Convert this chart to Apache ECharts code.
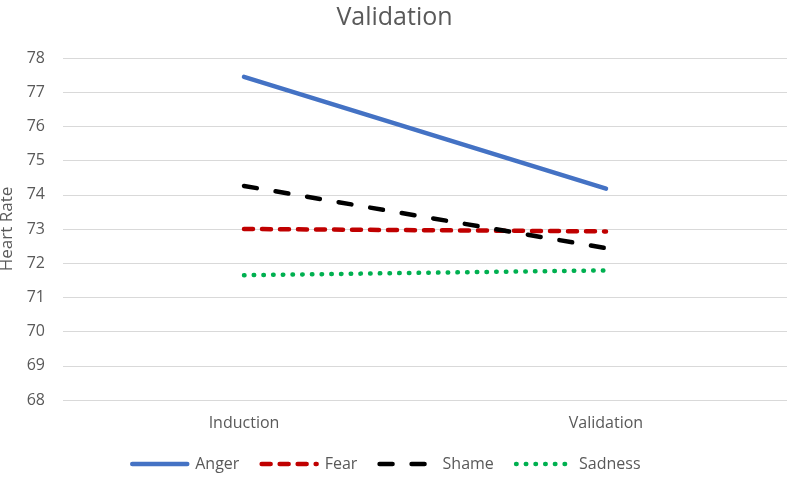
<!DOCTYPE html>
<html>
<head>
<meta charset="utf-8">
<script src="https://cdn.jsdelivr.net/npm/echarts@6/dist/echarts.min.js"></script>
<style>
html,body{margin:0;padding:0;background:#fff;}
#chart{width:789px;height:477px;}
</style>
</head>
<body>
<div id="chart"></div>
<script>
const categories = ['Induction', 'Validation'];
const anger = [77.45, 74.18];
const fear = [73.0, 72.93];
const shame = [74.26, 72.44];
const sadness = [71.65, 71.79];
const yMin = 68, yMax = 78, yStep = 1;

const font = "'Open Sans', 'Noto Sans', sans-serif";
const grey = '#595959';

const chart = echarts.init(document.getElementById('chart'));
chart.setOption({
  animation: false,
  title: {
    text: 'Validation',
    left: 'center',
    top: 0,
    textStyle: { fontFamily: font, fontSize: 25, fontWeight: 'normal', color: grey }
  },
  legend: {
    bottom: 0,
    left: 125,
    itemWidth: 55,
    itemHeight: 14,
    itemGap: 20,
    itemStyle: { opacity: 0 },
    lineStyle: { width: 4.5 },
    textStyle: { fontFamily: font, fontSize: 16, color: grey, padding: [0, 0, 0, 3] },
    data: ['Anger', 'Fear', 'Shame', 'Sadness']
  },
  grid: { left: 63, right: 2, top: 58, bottom: 77, outerBoundsMode: 'none', containLabel: false },
  xAxis: {
    type: 'category',
    data: categories,
    boundaryGap: true,
    axisLine: { show: false },
    axisTick: { show: false },
    axisLabel: { fontFamily: font, fontSize: 16, color: grey, margin: 15 }
  },
  yAxis: {
    type: 'value',
    min: yMin, max: yMax, interval: yStep,
    name: 'Heart Rate',
    nameLocation: 'middle',
    nameGap: 44,
    nameTextStyle: { fontFamily: font, fontSize: 17, color: grey },
    axisLine: { show: false },
    axisTick: { show: false },
    axisLabel: { fontFamily: font, fontSize: 16, color: grey, margin: 18 },
    splitLine: { lineStyle: { color: '#D9D9D9', width: 1 } }
  },
  series: [
    { name: 'Anger', type: 'line', data: anger, symbol: 'none',
      lineStyle: { color: '#4472C4', width: 4.5, cap: 'round' }, itemStyle: { color: '#4472C4' } },
    { name: 'Fear', type: 'line', data: fear, symbol: 'none',
      lineStyle: { color: '#C00000', width: 4.5, type: [9, 9], cap: 'round' }, itemStyle: { color: '#C00000' } },
    { name: 'Shame', type: 'line', data: shame, symbol: 'none',
      lineStyle: { color: '#000000', width: 4.5, type: [13, 19], cap: 'round' }, itemStyle: { color: '#000000' } },
    { name: 'Sadness', type: 'line', data: sadness, symbol: 'none',
      lineStyle: { color: '#00B050', width: 4.5, type: [0.5, 9.2], cap: 'round' }, itemStyle: { color: '#00B050' } }
  ]
});
</script>
</body>
</html>
